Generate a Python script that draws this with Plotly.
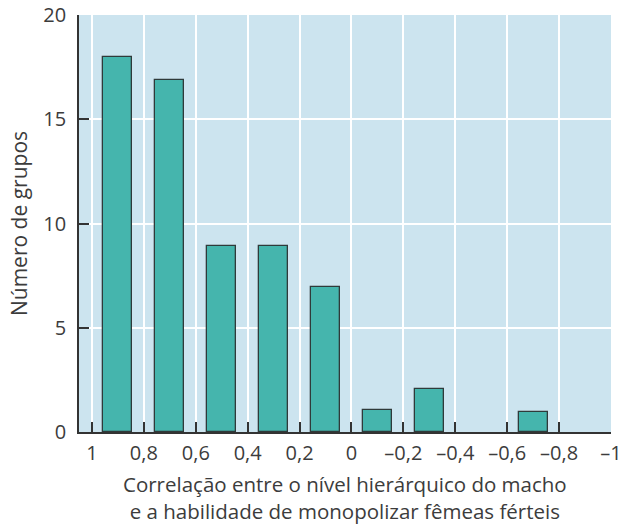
import plotly.graph_objects as go

# Data
bin_centers = [0.9, 0.7, 0.5, 0.3, 0.1, -0.1, -0.3, -0.5, -0.7]
group_counts = [18, 16.9, 8.9, 8.9, 6.95, 1.05, 2.05, 0, 0.95]
x_tick_vals = [1, 0.8, 0.6, 0.4, 0.2, 0, -0.2, -0.4, -0.6, -0.8, -1]
x_tick_text = ["1", "0,8", "0,6", "0,4", "0,2", "0", "–0,2", "–0,4", "–0,6", "–0,8", "–1"]
y_tick_vals = [0, 5, 10, 15, 20]
x_title = "Correlação entre o nível hierárquico do macho<br>e a habilidade de monopolizar fêmeas férteis"
y_title = "Número de grupos"

FONT = "Open Sans"
TEXT = "#3c3c3c"
AXIS = "#333333"
FS = 20

fig = go.Figure()
fig.add_trace(go.Bar(
    x=bin_centers,
    y=group_counts,
    width=0.112,
    marker=dict(
        color="#45b5ad",
        line=dict(color="#2f3a3a", width=[0 if v == 0 else 1.3 for v in group_counts]),
    ),
    showlegend=False,
    hoverinfo="skip",
))

fig.update_layout(
    width=623,
    height=525,
    margin=dict(l=79, r=12, t=15, b=93),
    paper_bgcolor="white",
    plot_bgcolor="#cce4ef",
    font=dict(family=FONT, size=FS, color=TEXT),
    bargap=0,
)

fig.update_xaxes(
    range=[1.05, -1.0],
    tickvals=x_tick_vals,
    ticktext=x_tick_text,
    ticks="inside",
    ticklen=10,
    tickwidth=1.5,
    tickcolor=AXIS,
    showgrid=True,
    gridcolor="white",
    gridwidth=2,
    zeroline=False,
    showline=True,
    linecolor=AXIS,
    linewidth=1.6,
    automargin=False,
    ticklabeloverflow="allow",
    ticklabelstandoff=2,
    tickfont=dict(size=FS, color=TEXT),
)

fig.update_yaxes(
    range=[0, 20],
    tickvals=y_tick_vals,
    ticks="inside",
    ticklen=10,
    tickwidth=1.5,
    tickcolor=AXIS,
    showgrid=True,
    gridcolor="white",
    gridwidth=2,
    zeroline=False,
    showline=True,
    linecolor=AXIS,
    linewidth=1.6,
    automargin=False,
    ticklabeloverflow="allow",
    ticklabelstandoff=7,
    tickfont=dict(size=FS, color=TEXT),
    title=dict(text=y_title, font=dict(size=21, color=TEXT), standoff=10),
)

fig.add_annotation(
    text=x_title, xref="paper", yref="paper", x=0.5, y=0,
    xanchor="center", yanchor="middle", yshift=-65,
    showarrow=False, font=dict(size=20.5, color=TEXT),
)

fig.write_html(
    "out.html",
    config={"displayModeBar": False},
    post_script="document.body.style.margin='0px';",
)
